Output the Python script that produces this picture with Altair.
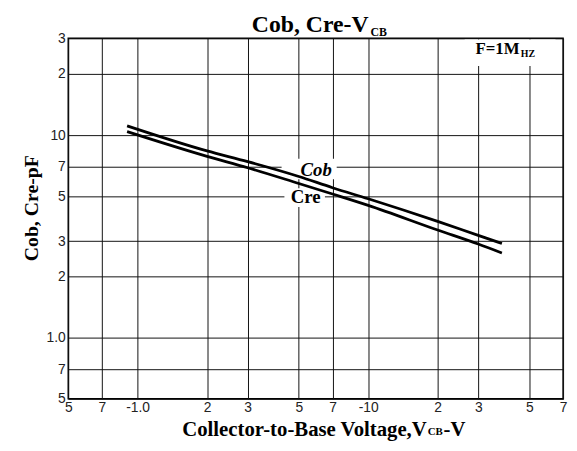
import altair as alt
import pandas as pd

# ---- data ----
vcb = [0.9, 2, 3, 5, 7, 10, 20, 30, 38]
cob = [11.1, 8.35, 7.4, 6.25, 5.5, 4.85, 3.75, 3.2, 2.92]
cre = [10.4, 7.85, 6.9, 5.77, 5.12, 4.5, 3.4, 2.9, 2.62]

x_ticks = [0.5, 0.7, 1, 2, 3, 5, 7, 10, 20, 30, 50, 70]
x_tick_labels = ["5", "7", "-1.0", "2", "3", "5", "7", "-10", "2", "3", "5", "7"]
y_ticks = [0.5, 0.7, 1, 2, 3, 5, 7, 10, 20, 30]
y_tick_labels = ["5", "7", "1.0", "2", "3", "5", "7", "10", "2", "3"]

x_domain = [0.5, 70]
y_domain = [0.5, 30]

# annotation texts and their anchor positions (data units)
curve_names = ["Cob", "Cre"]
curve_label_x = [5.09, 4.61]
curve_label_y = [6.25, 4.61]
freq_main, freq_sub = "F=1M", "HZ"
freq_x = [29.2, 45.9]
freq_y = [25.0, 24.2]

# white masks behind labels (data units): x1, x2, y1, y2
mask_x1 = [4.21, 4.33, 26.2]
mask_x2 = [7.30, 6.49, 64.9]
mask_y1 = [6.05, 4.42, 21.9]
mask_y2 = [7.65, 5.47, 29.6]

title_main, title_sub = "Cob, Cre-V", "CB"
xtitle_main, xtitle_sub, xtitle_end = "Collector-to-Base Voltage,V", "CB", "-V"
ytitle = "Cob, Cre-pF"

SERIF = "Liberation Serif"
SANS = "Liberation Sans"


def label_expr(vals, labels):
    expr = "''"
    for v, l in reversed(list(zip(vals, labels))):
        expr = f"abs(datum.value - {v}) < 1e-6 ? '{l}' : ({expr})"
    return expr


curve_df = pd.DataFrame({
    "vcb": vcb + vcb,
    "c": cob + cre,
    "series": ["Cob"] * len(vcb) + ["Cre"] * len(vcb),
})
mask_df = pd.DataFrame({"x1": mask_x1, "x2": mask_x2, "y1": mask_y1, "y2": mask_y2})

xs = alt.Scale(type="log", domain=x_domain, nice=False)
ys = alt.Scale(type="log", domain=y_domain, nice=False)

x_axis = alt.Axis(values=x_ticks, labelExpr=label_expr(x_ticks, x_tick_labels),
                  grid=True, gridColor="#111", gridWidth=1, ticks=False, tickSize=0,
                  domain=False, labelFont=SANS, labelFontSize=14, labelColor="#222",
                  labelPadding=2, labelFlush=False, labelOverlap=False, title=None)
y_axis = alt.Axis(values=y_ticks, labelExpr=label_expr(y_ticks, y_tick_labels),
                  grid=True, gridColor="#111", gridWidth=1, ticks=False, tickSize=0,
                  domain=False, labelFont=SANS, labelFontSize=14, labelColor="#222",
                  labelPadding=3, labelFlush=False, labelOverlap=False, title=None)


def X(field):
    return alt.X(field, scale=xs, axis=x_axis)


def Y(field):
    return alt.Y(field, scale=ys, axis=y_axis)


masks = alt.Chart(mask_df).mark_rect(color="white").encode(
    x=X("x1:Q"), x2="x2:Q", y=Y("y1:Q"), y2="y2:Q",
)

lines = alt.Chart(curve_df).mark_line(color="black", strokeWidth=2.8,
                                      interpolate="monotone").encode(
    x=X("vcb:Q"), y=Y("c:Q"), detail="series:N",
)

lab_df = pd.DataFrame({"t": curve_names, "x": curve_label_x, "y": curve_label_y})
cob_lab = alt.Chart(lab_df[lab_df.t == "Cob"]).mark_text(
    font=SERIF, fontWeight="bold", fontStyle="italic", fontSize=19,
    align="left", baseline="alphabetic", color="black").encode(
    x=X("x:Q"), y=Y("y:Q"), text="t:N")
cre_lab = alt.Chart(lab_df[lab_df.t == "Cre"]).mark_text(
    font=SERIF, fontWeight="bold", fontSize=19,
    align="left", baseline="alphabetic", color="black").encode(
    x=X("x:Q"), y=Y("y:Q"), text="t:N")

freq_df = pd.DataFrame({"t": [freq_main, freq_sub], "x": freq_x, "y": freq_y})
freq1 = alt.Chart(freq_df.iloc[[0]]).mark_text(
    font=SERIF, fontWeight="bold", fontSize=17, align="left", baseline="alphabetic",
    color="black").encode(x=X("x:Q"), y=Y("y:Q"), text="t:N")
freq2 = alt.Chart(freq_df.iloc[[1]]).mark_text(
    font=SERIF, fontWeight="bold", fontSize=10, align="left", baseline="alphabetic",
    color="black").encode(x=X("x:Q"), y=Y("y:Q"), text="t:N")


def free_text(txt, px, py, size, align="left", angle=0):
    kw = dict(font=SERIF, fontWeight="bold", fontSize=size, align=align,
              baseline="alphabetic", color="black")
    if angle:
        kw["angle"] = angle
    return alt.Chart(pd.DataFrame({"t": [txt]})).mark_text(**kw).encode(
        x=alt.value(px), y=alt.value(py), text="t:N")


t1 = free_text(title_main, 304, -6.7, 24, align="right")
t2 = free_text(title_sub, 306, -2.7, 12)
xt1 = free_text(xtitle_main, 363, 403, 21, align="right")
xt2 = free_text(xtitle_sub, 364, 402, 11)
xt3 = free_text(xtitle_end, 380, 403, 21)
yt = free_text(ytitle, -30.5, 172, 20, align="center", angle=270)

chart = alt.layer(masks, lines, cob_lab, cre_lab, freq1, freq2,
                  t1, t2, xt1, xt2, xt3, yt).properties(
    width=501, height=365,
    autosize=alt.AutoSizeParams(type="none"),
    padding={"left": 61, "top": 28, "right": 6, "bottom": 42},
    background="white",
).configure_view(stroke="black", strokeWidth=1.5)

chart.save("out.html", embed_options={"renderer": "svg", "actions": False})
